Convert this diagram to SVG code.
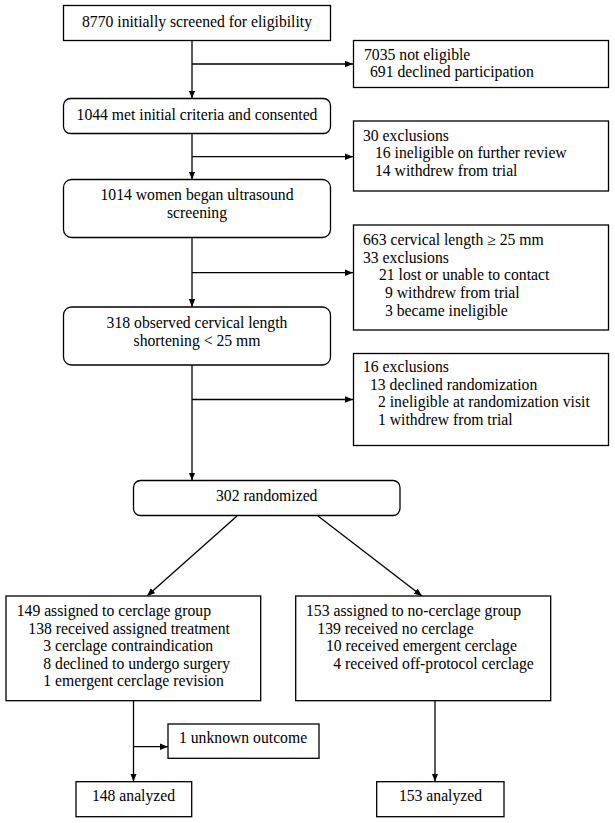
<svg xmlns="http://www.w3.org/2000/svg" width="615" height="823" viewBox="0 0 615 823" font-family="'Liberation Serif', 'Times New Roman', Times, serif">
<style>
.box{fill:#fff;stroke:#000;stroke-width:1.3}
.t{font-family:'Liberation Serif', Times, serif;font-size:15.7px;fill:#000}
.c{text-anchor:middle}
.ln{stroke:#000;stroke-width:1.3;fill:none}
</style>
<defs>
<marker id="ah" markerWidth="8" markerHeight="7" refX="8" refY="3.25" orient="auto" markerUnits="userSpaceOnUse"><path d="M0,0 L8,3.25 L0,6.5 z" fill="#000"/></marker>
</defs>
<rect width="615" height="823" fill="#fff"/>
<g id="connectors">
<path class="ln" d="M192,41 V98.5" marker-end="url(#ah)"/>
<path class="ln" d="M192,64 H353" marker-end="url(#ah)"/>
<path class="ln" d="M192,133.5 V179.5" marker-end="url(#ah)"/>
<path class="ln" d="M192,156.7 H353" marker-end="url(#ah)"/>
<path class="ln" d="M192,237.5 V307" marker-end="url(#ah)"/>
<path class="ln" d="M192,272.7 H353" marker-end="url(#ah)"/>
<path class="ln" d="M192,365 V480.5" marker-end="url(#ah)"/>
<path class="ln" d="M192,399.5 H353" marker-end="url(#ah)"/>
<path class="ln" d="M237,516 L147,596" marker-end="url(#ah)"/>
<path class="ln" d="M318,516 L422,596" marker-end="url(#ah)"/>
<path class="ln" d="M133.5,701 V781.5" marker-end="url(#ah)"/>
<path class="ln" d="M133.5,746.7 H168" marker-end="url(#ah)"/>
<path class="ln" d="M435,701 V781.5" marker-end="url(#ah)"/>
</g>
<g id="n1"><rect class="box" x="63.5" y="5.5" width="267" height="35"/><text class="t c" x="197" y="26.5">8770 initially screened for eligibility</text></g>
<g id="nA"><rect class="box" x="353.5" y="40.5" width="255" height="47"/><text class="t" x="364" y="59.5">7035 not eligible</text><text class="t" x="370" y="76.7">691 declined participation</text></g>
<g id="n2"><rect class="box" x="63.5" y="98.5" width="267" height="35" rx="7"/><text class="t c" x="197" y="119.5">1044 met initial criteria and consented</text></g>
<g id="nB"><rect class="box" x="353.5" y="121" width="255" height="70"/><text class="t" x="363" y="140.7">30 exclusions</text><text class="t" x="375" y="158.3">16 ineligible on further review</text><text class="t" x="375" y="176">14 withdrew from trial</text></g>
<g id="n3"><rect class="box" x="63.5" y="179.5" width="267" height="58" rx="8"/><text class="t c" x="197" y="200">1014 women began ultrasound</text><text class="t c" x="197" y="218.3">screening</text></g>
<g id="nC"><rect class="box" x="353.5" y="225" width="255" height="105"/><text class="t" x="363" y="245">663 cervical length ≥ 25 mm</text><text class="t" x="363" y="262.7">33 exclusions</text><text class="t" x="379" y="280.3">21 lost or unable to contact</text><text class="t" x="385" y="297.9">9 withdrew from trial</text><text class="t" x="385" y="315.5">3 became ineligible</text></g>
<g id="n4"><rect class="box" x="63.5" y="307" width="267" height="58" rx="8"/><text class="t c" x="197" y="328.3">318 observed cervical length</text><text class="t c" x="197" y="345.8">shortening &lt; 25 mm</text></g>
<g id="nD"><rect class="box" x="353.5" y="353.5" width="255" height="92"/><text class="t" x="363" y="372">16 exclusions</text><text class="t" x="370" y="389.6">13 declined randomization</text><text class="t" x="378" y="407.2">2 ineligible at randomization visit</text><text class="t" x="378" y="424.8">1 withdrew from trial</text></g>
<g id="n5"><rect class="box" x="133.5" y="480.5" width="266.5" height="35" rx="7"/><text class="t c" x="266.7" y="501">302 randomized</text></g>
<g id="n6"><rect class="box" x="6" y="596" width="254.7" height="104.7"/><text class="t" x="16.7" y="616">149 assigned to cerclage group</text><text class="t" x="28.3" y="633.6">138 received assigned treatment</text><text class="t" x="43.3" y="651.2">3 cerclage contraindication</text><text class="t" x="43.3" y="668.8">8 declined to undergo surgery</text><text class="t" x="43.3" y="686.4">1 emergent cerclage revision</text></g>
<g id="n7"><rect class="box" x="295.7" y="596" width="255" height="104.7"/><text class="t" x="306" y="616">153 assigned to no-cerclage group</text><text class="t" x="317.3" y="633.6">139 received no cerclage</text><text class="t" x="326" y="651.2">10 received emergent cerclage</text><text class="t" x="333.3" y="668.8">4 received off-protocol cerclage</text></g>
<g id="n8"><rect class="box" x="168" y="724" width="151" height="34.3"/><text class="t" x="179" y="742.5">1 unknown outcome</text></g>
<g id="n9"><rect class="box" x="76" y="781.7" width="115.7" height="35"/><text class="t c" x="133.5" y="801">148 analyzed</text></g>
<g id="n10"><rect class="box" x="376.7" y="781.7" width="127.3" height="35"/><text class="t c" x="440.5" y="801">153 analyzed</text></g>
</svg>
